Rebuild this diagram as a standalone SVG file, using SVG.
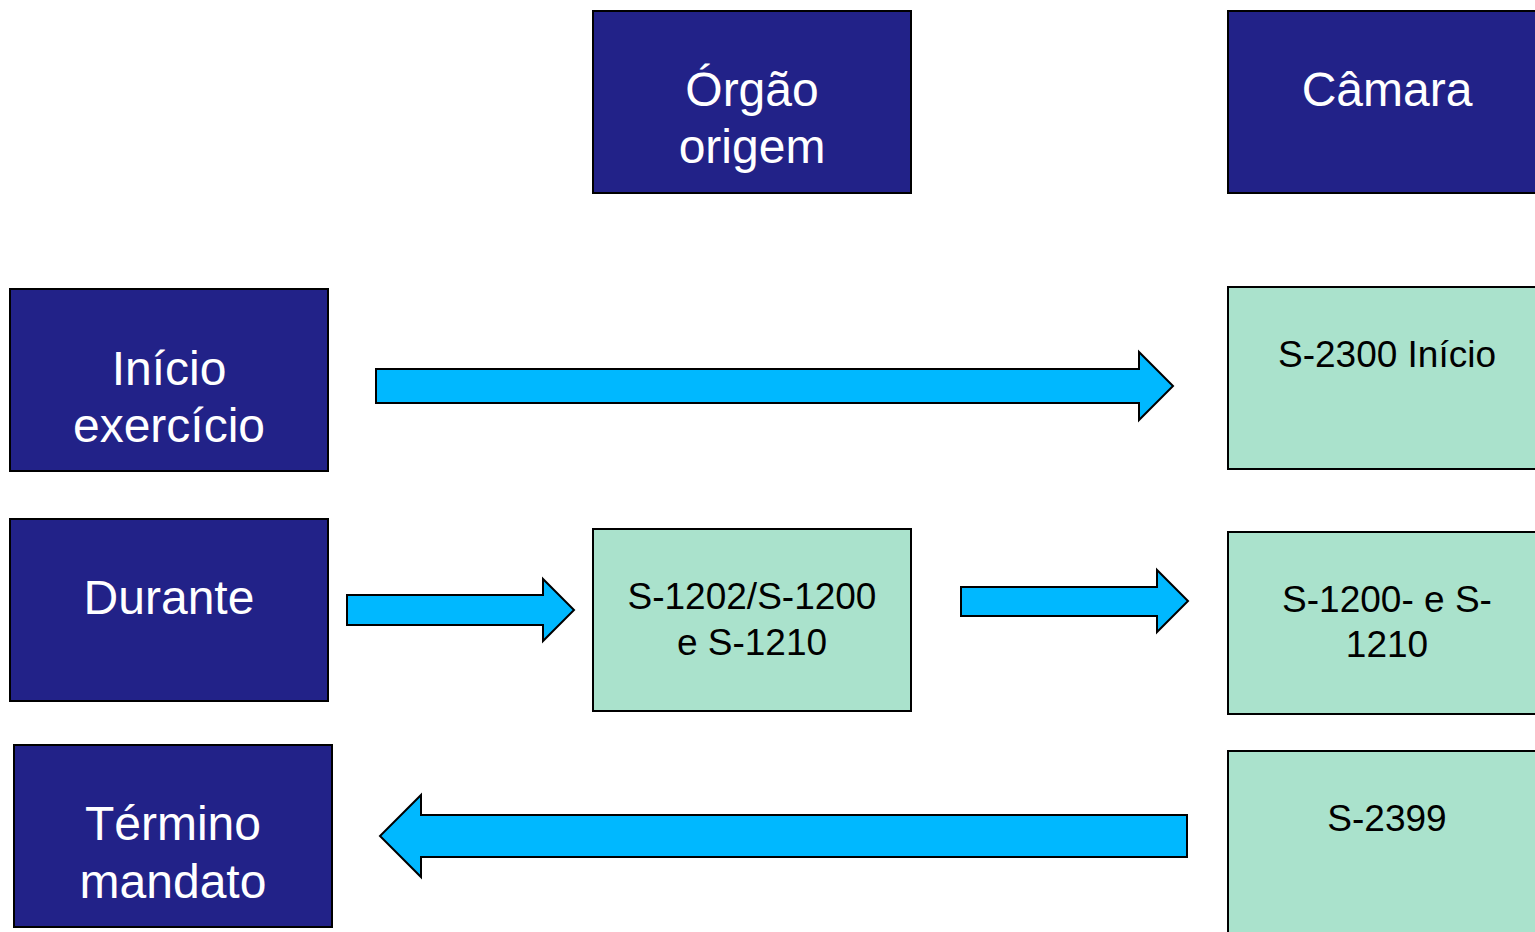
<svg xmlns="http://www.w3.org/2000/svg" width="1535" height="932" viewBox="0 0 1535 932">
<style>
.hd{fill:#222288;stroke:#000;stroke-width:2}
.gr{fill:#aae2cc;stroke:#000;stroke-width:2}
.ar{fill:#00b8ff;stroke:#000;stroke-width:2;stroke-linejoin:miter}
.ht{font-family:"Liberation Sans",Arial,sans-serif;font-size:48px;fill:#fff;text-anchor:middle}
.gt{font-family:"Liberation Sans",Arial,sans-serif;font-size:37px;fill:#000;text-anchor:middle}
</style>
<rect width="1535" height="932" fill="#fff"/>
<g id="orgao-origem"><rect class="hd" x="593" y="11" width="318" height="182"/><text class="ht" x="752" y="106">Órgão</text><text class="ht" x="752" y="163">origem</text></g>
<g id="camara"><rect class="hd" x="1228" y="11" width="320" height="182"/><text class="ht" x="1387" y="106">Câmara</text></g>
<g id="inicio-exercicio"><rect class="hd" x="10" y="289" width="318" height="182"/><text class="ht" x="169" y="385">Início</text><text class="ht" x="169" y="442">exercício</text></g>
<g id="durante"><rect class="hd" x="10" y="519" width="318" height="182"/><text class="ht" x="169" y="614">Durante</text></g>
<g id="termino-mandato"><rect class="hd" x="14" y="745" width="318" height="182"/><text class="ht" x="173" y="840">Término</text><text class="ht" x="173" y="898">mandato</text></g>
<g id="s2300"><rect class="gr" x="1228" y="287" width="320" height="182"/><text class="gt" x="1387" y="367">S-2300 Início</text></g>
<g id="s1202"><rect class="gr" x="593" y="529" width="318" height="182"/><text class="gt" x="752" y="609">S-1202/S-1200</text><text class="gt" x="752" y="655">e S-1210</text></g>
<g id="s1200"><rect class="gr" x="1228" y="532" width="320" height="182"/><text class="gt" x="1387" y="612">S-1200- e S-</text><text class="gt" x="1387" y="657">1210</text></g>
<g id="s2399"><rect class="gr" x="1228" y="751" width="320" height="190"/><text class="gt" x="1387" y="831">S-2399</text></g>
<g id="connectors">
<polygon class="ar" points="376,369 1139,369 1139,352 1173,386 1139,420 1139,403 376,403"/>
<polygon class="ar" points="347,595 543,595 543,579 574,610 543,641 543,625 347,625"/>
<polygon class="ar" points="961,587 1157,587 1157,570 1188,601 1157,632 1157,616 961,616"/>
<polygon class="ar" points="1187,815 421,815 421,795 380,836 421,877 421,857 1187,857"/>
</g>
</svg>
